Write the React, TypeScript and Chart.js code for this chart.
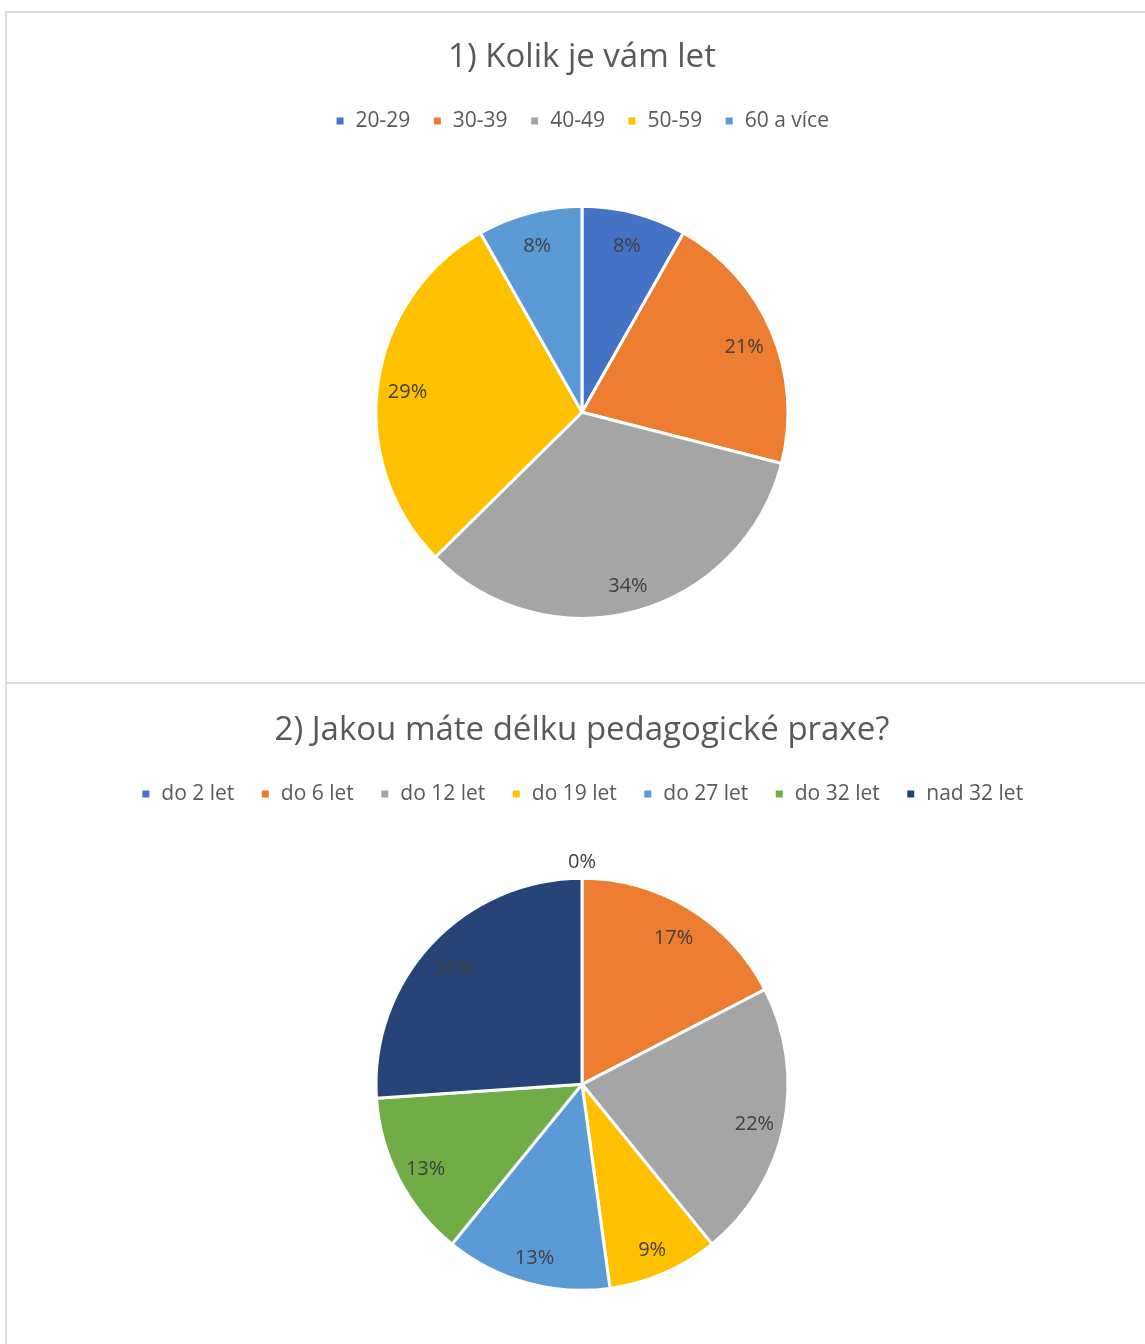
import React, { useEffect, useRef } from "react";
import { Chart, registerables } from "chart.js";

Chart.register(...registerables);

const ageTitle = "1) Kolik je vám let";
const ageLabels = ["20-29", "30-39", "40-49", "50-59", "60 a více"];
const agePercent = [8.2, 20.8, 33.6, 29.2, 8.2];
const ageColors = ["#4472C4", "#ED7D31", "#A5A5A5", "#FFC000", "#5B9BD5"];

const praxeTitle = "2) Jakou máte délku pedagogické praxe?";
const praxeLabels = ["do 2 let", "do 6 let", "do 12 let", "do 19 let", "do 27 let", "do 32 let", "nad 32 let"];
const praxeCounts = [0, 4, 5, 2, 3, 3, 6];
const praxeColors = ["#4472C4", "#ED7D31", "#A5A5A5", "#FFC000", "#5B9BD5", "#70AD47", "#264478"];

const FONT = "'Open Sans', 'DejaVu Sans', sans-serif";

const pctLabels = {
  id: "pctLabels",
  afterDatasetsDraw(chart: any) {
    const ctx = chart.ctx;
    const data = chart.data.datasets[0].data as number[];
    const total = data.reduce((a: number, b: number) => a + b, 0);
    const meta = chart.getDatasetMeta(0);
    ctx.save();
    ctx.font = `20px ${FONT}`;
    ctx.fillStyle = "#404040";
    ctx.textAlign = "center";
    ctx.textBaseline = "middle";
    meta.data.forEach((arc: any, i: number) => {
      const p = arc.getProps(["x", "y", "startAngle", "endAngle", "outerRadius"], true);
      const mid = (p.startAngle + p.endAngle) / 2;
      const r = data[i] === 0 ? p.outerRadius + 20 : p.outerRadius * 0.855;
      const txt = Math.round((data[i] / total) * 100) + "%";
      ctx.fillText(txt, p.x + Math.cos(mid) * r, p.y + Math.sin(mid) * r + 4);
    });
    ctx.restore();
  },
};

function PieBox(props: {
  title: string;
  labels: string[];
  values: number[];
  colors: string[];
  legendPad: number;
  titleTop: number;
  titleBottom: number;
  top: number;
}) {
  const ref = useRef<HTMLCanvasElement | null>(null);
  useEffect(() => {
    if (!ref.current) return;
    const chart = new Chart(ref.current, {
      type: "pie",
      data: {
        labels: props.labels,
        datasets: [
          {
            data: props.values,
            backgroundColor: props.colors,
            borderColor: "#ffffff",
            borderWidth: 3,
          },
        ],
      },
      options: {
        responsive: false,
        animation: false,
        devicePixelRatio: 1,
        radius: 206,
        layout: { padding: 0 },
        plugins: {
          title: {
            display: true,
            text: props.title,
            color: "#595959",
            font: { family: FONT, size: 33, weight: "normal" },
            padding: { top: props.titleTop, bottom: props.titleBottom },
          },
          legend: {
            display: true,
            position: "top",
            labels: {
              color: "#595959",
              font: { family: FONT, size: 21 },
              boxWidth: 10,
              boxHeight: 10,
              padding: props.legendPad,
            },
          },
          tooltip: { enabled: false },
        },
      } as any,
      plugins: [pctLabels],
    });
    return () => chart.destroy();
  }, []);
  return (
    <div
      style={{
        position: "absolute",
        left: 5,
        top: props.top,
        width: 1170,
        height: 669,
        borderTop: "2px solid #d9d9d9",
        borderLeft: "2px solid #d9d9d9",
        background: "transparent",
      }}
    >
      <canvas ref={ref} width={1150} height={670} style={{ display: "block", width: 1150, height: 670 }} />
    </div>
  );
}

export default function App() {
  return (
    <div style={{ position: "fixed", inset: 0, overflow: "hidden", background: "#ffffff" }}>
      <PieBox
        title={ageTitle}
        labels={ageLabels}
        values={agePercent}
        colors={ageColors}
        legendPad={22}
        titleTop={25}
        titleBottom={11}
        top={11}
      />
      <PieBox
        title={praxeTitle}
        labels={praxeLabels}
        values={praxeCounts}
        colors={praxeColors}
        legendPad={26}
        titleTop={27}
        titleBottom={7}
        top={682}
      />
    </div>
  );
}
